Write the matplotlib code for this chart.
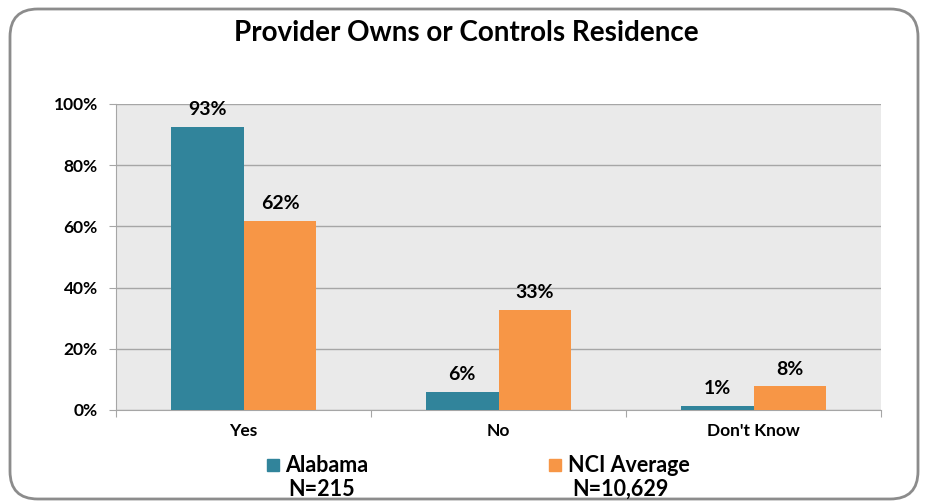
import numpy as np
import matplotlib.pyplot as plt
from matplotlib.patches import FancyBboxPatch, Rectangle

categories = ['Yes', 'No', "Don't Know"]
alabama = [92.6, 5.9, 1.3]
nci = [61.8, 32.7, 7.8]
series_names = ['Alabama', 'NCI Average']
series_n = ['N=215', 'N=10,629']
yticks = [0, 20, 40, 60, 80, 100]

teal = '#31849B'
orange = '#F79646'

plt.rcParams['font.family'] = ['Lato', 'DejaVu Sans']
plt.rcParams['font.weight'] = 'bold'

fig = plt.figure(figsize=(9.26, 5.04), dpi=100)
W, H = 926, 504
ax = fig.add_axes([116 / W, 1 - 410 / H, (881 - 116) / W, (410 - 104) / H])

x = np.arange(len(categories))
bw = 0.286
b1 = ax.bar(x - bw / 2, alabama, bw, color=teal, zorder=3)
b2 = ax.bar(x + bw / 2, nci, bw, color=orange, zorder=3)
for bars, vals in [(b1, alabama), (b2, nci)]:
    for b, v in zip(bars, vals):
        ax.text(b.get_x() + b.get_width() / 2, v + 2.8, f'{round(v)}%',
                ha='center', va='bottom', fontsize=14, fontweight='bold')

ax.set_xlim(-0.5, 2.5)
ax.set_ylim(0, 100)
ax.set_facecolor('#EAEAEA')
ax.set_yticks(yticks)
ax.set_yticklabels([f'{t}%' for t in yticks], fontsize=12.5, fontweight='bold')
ax.yaxis.grid(True, color='#A6A6A6', lw=1, zorder=0)
ax.set_xticks([-0.5, 0.5, 1.5, 2.5])
ax.set_xticklabels([])
ax.set_xticks(x, minor=True)
ax.set_xticklabels(categories, minor=True, fontsize=12.5, fontweight='bold')
ax.tick_params(axis='x', which='minor', length=0, pad=9)
ax.tick_params(axis='x', which='major', length=5, color='#A6A6A6')
ax.tick_params(axis='y', length=5, color='#A6A6A6', pad=8)
for s in ['top', 'right']:
    ax.spines[s].set_visible(False)
for s in ['left', 'bottom']:
    ax.spines[s].set_color('#A6A6A6')

fig.text(466 / W, 1 - 33 / H, 'Provider Owns or Controls Residence',
         ha='center', va='center', fontsize=20, fontweight='bold')

# legend
for sx, tx, nx, col, name, n in [(267, 285, 322, teal, series_names[0], series_n[0]),
                                 (549, 568, 620, orange, series_names[1], series_n[1])]:
    fig.patches.append(Rectangle((sx / W, 1 - 471 / H), 12 / W, 12 / H,
                                 color=col, transform=fig.transFigure))
    fig.text(tx / W, 1 - 465 / H, name, ha='left', va='center', fontsize=15.5, fontweight='bold')
    fig.text(nx / W, 1 - 489 / H, n, ha='center', va='center', fontsize=15.5, fontweight='bold')

fig.patches.append(FancyBboxPatch((10 / W, 5 / H), 908 / W, 490 / H,
                                  boxstyle='round,pad=0,rounding_size=0.03',
                                  fc='none', ec='#8C8C8C', lw=2,
                                  transform=fig.transFigure, mutation_aspect=W / H))

fig.savefig('out.png', dpi=100)
